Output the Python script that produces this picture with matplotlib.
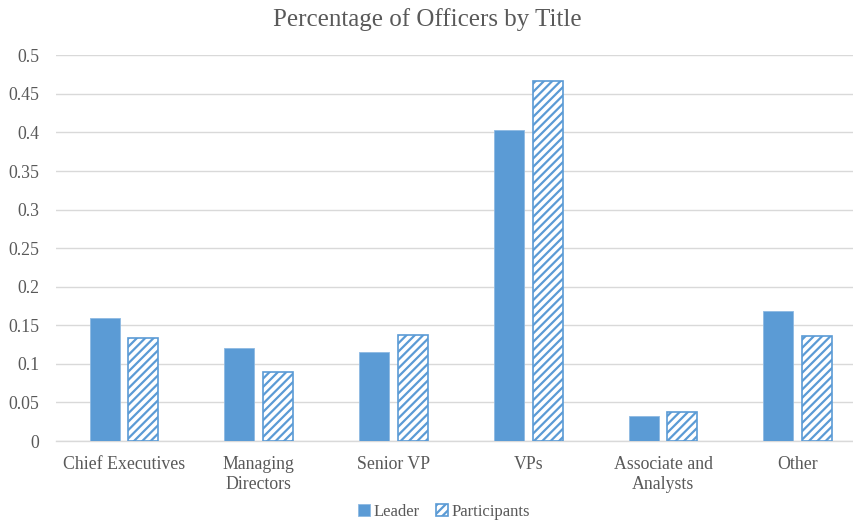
import matplotlib as mpl
import matplotlib.pyplot as plt
import numpy as np

categories = ['Chief Executives', 'Managing\nDirectors', 'Senior VP', 'VPs',
              'Associate and\nAnalysts', 'Other']
leader = [0.159, 0.120, 0.116, 0.403, 0.033, 0.168]
participants = [0.134, 0.089, 0.137, 0.467, 0.037, 0.136]
yticks = [0, 0.05, 0.1, 0.15, 0.2, 0.25, 0.3, 0.35, 0.4, 0.45, 0.5]
yticklabels = ['0', '0.05', '0.1', '0.15', '0.2', '0.25', '0.3', '0.35', '0.4', '0.45', '0.5']

blue = '#5B9BD5'
grey = '#595959'

mpl.rcParams['font.family'] = 'Liberation Serif'
mpl.rcParams['hatch.linewidth'] = 1.6
mpl.rcParams['hatch.color'] = blue

fig = plt.figure(figsize=(8.54, 5.32), dpi=100)
ax = fig.add_axes([0.0656, 0.171, 0.9344, 0.725])

x = np.arange(len(categories))
w = 0.223
ax.bar(x - 0.144, leader, w, color=blue, edgecolor='#8DB9E3', linewidth=0.6,
       label='Leader', zorder=3)
ax.bar(x + 0.144, participants, w, color='white', edgecolor=blue, hatch='////',
       linewidth=1.2, label='Participants', zorder=3)

# right end of the category axis is cut a little short
ax.set_xlim(-0.504, 5.417)
ax.set_ylim(0, 0.5)
ax.set_yticks(yticks)
ax.set_yticklabels(yticklabels)
ax.set_xticks(x)
ax.set_xticklabels(categories)
ax.tick_params(axis='both', length=0, labelsize=12.8, colors=grey)
ax.tick_params(axis='x', pad=11)
ax.tick_params(axis='y', pad=12)
ax.grid(axis='y', color='#D9D9D9', linewidth=1, zorder=0)
for s in ['top', 'right', 'left']:
    ax.spines[s].set_visible(False)
ax.spines['bottom'].set_color('#D9D9D9')
ax.spines['bottom'].set_linewidth(1)

fig.suptitle('Percentage of Officers by Title', y=0.985, fontsize=18, color=grey)
fig.legend(loc='lower center', bbox_to_anchor=(0.52, -0.005), ncol=2, frameon=False,
           fontsize=12, labelcolor=grey, handlelength=0.7, handleheight=0.7,
           handletextpad=0.2, columnspacing=1.0)

fig.savefig('out.png', dpi=100)
